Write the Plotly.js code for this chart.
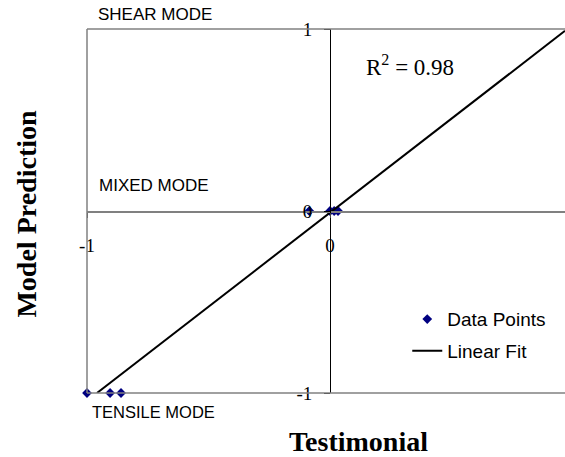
<!DOCTYPE html>
<html>
<head>
<meta charset="utf-8">
<script src="https://cdn.plot.ly/plotly-3.0.1.min.js"></script>
<style>html,body{margin:0;padding:0;background:#fff;}#chart{width:565px;height:457px;}</style>
</head>
<body>
<div id="chart"></div>
<script>
// Data
const dataX = [-1.0, -0.905, -0.86, -0.085, 0.0, 0.017, 0.033];
const dataY = [-1, -1, -1, 0, 0, 0, 0];
const fitX = [-0.959, 0.967];
const fitY = [-1.0, 0.99];
const xTickVals = [-1, 0];
const xTickText = ['-1', '0'];
const yTickVals = [-1, 0, 1];
const yTickText = ['-1', '0', '1'];
const rSquared = '0.98';

const xRange = [-1, 0.967];
const yRange = [-1, 1];
const serif = 'Liberation Serif, Times New Roman, serif';
const sans = 'Liberation Sans, Arial, sans-serif';

const traces = [
  {x: dataX, y: dataY, type: 'scatter', mode: 'markers', name: 'Data Points',
   legendgroup: 'a',
   marker: {symbol: 'diamond', size: 7.5, color: '#000080'}, cliponaxis: false},
  {x: fitX, y: fitY, type: 'scatter', mode: 'lines', name: 'Linear Fit',
   legendgroup: 'b',
   line: {color: '#000000', width: 2}}
];

const yAxisPos = (0 - xRange[0]) / (xRange[1] - xRange[0]);

const layout = {
  width: 565, height: 457,
  margin: {l: 87, r: 0, t: 29, b: 64},
  paper_bgcolor: '#ffffff', plot_bgcolor: '#ffffff',
  showlegend: true,
  legend: {x: 0.67, y: 0.255, xanchor: 'left', yanchor: 'top',
           font: {family: sans, size: 19, color: '#000'},
           traceorder: 'grouped', tracegroupgap: 4, bgcolor: 'rgba(0,0,0,0)'},
  xaxis: {range: xRange, anchor: 'free', position: 0.5, showgrid: false, zeroline: false,
          showline: true, linecolor: '#808080', linewidth: 1.5,
          tickvals: xTickVals, ticktext: xTickText, ticks: 'outside', ticklen: 5,
          tickcolor: '#404040', ticklabelstandoff: 12,
          tickfont: {family: serif, size: 19, color: '#000'}},
  yaxis: {range: yRange, anchor: 'free', position: yAxisPos, showgrid: false, zeroline: false,
          showline: true, linecolor: '#000000', linewidth: 1,
          tickvals: yTickVals, ticktext: yTickText, ticks: 'outside', ticklen: 6,
          tickcolor: '#000', ticklabelstandoff: 8,
          tickfont: {family: serif, size: 19, color: '#000'}},
  shapes: [
    {type: 'line', xref: 'x domain', yref: 'y domain', x0: 0, x1: 0, y0: 0, y1: 1, line: {color: '#808080', width: 1.5}},
    {type: 'line', xref: 'x domain', yref: 'y domain', x0: 0, x1: 1, y0: 1, y1: 1, line: {color: '#808080', width: 1.5}},
    {type: 'line', xref: 'x domain', yref: 'y domain', x0: 0, x1: 1, y0: 0, y1: 0, line: {color: '#808080', width: 1.5}}
  ],
  annotations: [
    {text: 'SHEAR MODE', xref: 'paper', yref: 'paper', x: 0.019, y: 1.041, xanchor: 'left', yanchor: 'middle', showarrow: false, font: {family: sans, size: 17, color: '#000'}},
    {text: 'MIXED MODE', xref: 'paper', yref: 'paper', x: 0.021, y: 0.569, xanchor: 'left', yanchor: 'middle', showarrow: false, font: {family: sans, size: 17, color: '#000'}},
    {text: 'TENSILE MODE', xref: 'paper', yref: 'paper', x: 0.007, y: -0.052, xanchor: 'left', yanchor: 'middle', showarrow: false, font: {family: sans, size: 16.5, color: '#000'}},
    {text: 'R<sup>2</sup> = ' + rSquared, xref: 'paper', yref: 'paper', x: 0.676, y: 0.9, xanchor: 'center', yanchor: 'middle', showarrow: false, font: {family: serif, size: 23, color: '#000'}},
    {text: '<b>Testimonial</b>', xref: 'paper', yref: 'paper', x: 0.568, y: -0.132, xanchor: 'center', yanchor: 'middle', showarrow: false, font: {family: serif, size: 28, color: '#000'}},
    {text: '<b>Model Prediction</b>', xref: 'paper', yref: 'paper', x: -0.1255, y: 0.493, xanchor: 'center', yanchor: 'middle', textangle: -90, showarrow: false, font: {family: serif, size: 28, color: '#000'}}
  ]
};

Plotly.newPlot('chart', traces, layout, {displayModeBar: false, staticPlot: true});
</script>
</body>
</html>
